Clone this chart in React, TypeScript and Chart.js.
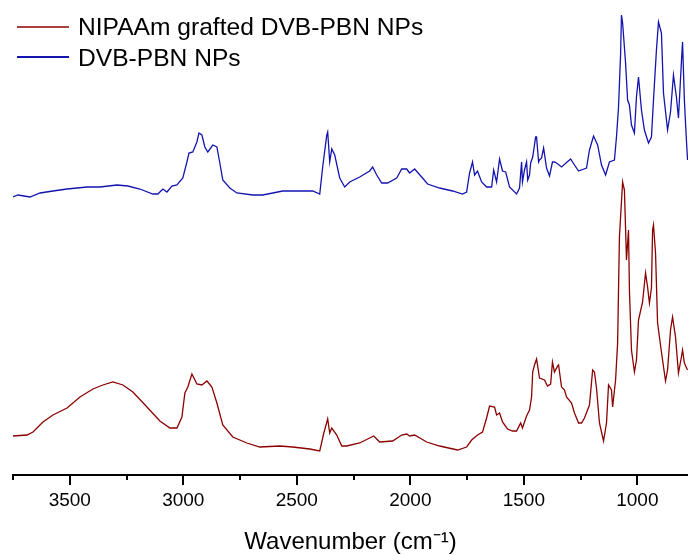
import React, { useEffect, useRef } from 'react';
import { Chart, registerables } from 'chart.js';

Chart.register(...registerables);

const SERIES_NAMES = ['NIPAAm grafted DVB-PBN NPs', 'DVB-PBN NPs'];
const SERIES_COLORS = ['#8b0000', '#1414b0'];

const RED_WN = [3750, 3688, 3662, 3618, 3574, 3512, 3455, 3398, 3354, 3310, 3266, 3222, 3160, 3103, 3059, 3028, 3006, 2993, 2980, 2962, 2940, 2918, 2896, 2874, 2852, 2826, 2782, 2720, 2663, 2575, 2518, 2443, 2399, 2381, 2364, 2355, 2346, 2324, 2302, 2280, 2223, 2170, 2161, 2135, 2078, 2038, 2016, 2003, 1981, 1928, 1871, 1792, 1752, 1730, 1704, 1682, 1664, 1651, 1629, 1620, 1607, 1594, 1572, 1550, 1532, 1514, 1506, 1488, 1475, 1466, 1461, 1453, 1444, 1431, 1409, 1396, 1382, 1374, 1365, 1351, 1347, 1334, 1321, 1312, 1290, 1277, 1259, 1246, 1233, 1211, 1197, 1189, 1180, 1167, 1149, 1136, 1127, 1114, 1109, 1096, 1087, 1079, 1065, 1057, 1052, 1048, 1039, 1035, 1026, 1013, 1004, 995, 977, 964, 955, 947, 938, 933, 929, 920, 911, 894, 876, 867, 854, 845, 832, 819, 806, 801, 793, 779];
const RED_VAL = [39, 40, 43, 53, 60, 67, 78, 86, 90, 93, 90, 83, 68, 54, 47, 47, 58, 82, 88, 101, 91, 90, 94, 88, 72, 50, 38, 32, 28, 29, 28, 26, 24, 42, 56, 42, 47, 40, 29, 29, 32, 38, 39, 33, 34, 40, 41, 39, 40, 33, 29, 25, 28, 35, 40, 43, 57, 69, 68, 60, 62, 53, 46, 44, 44, 52, 47, 59, 65, 78, 103, 110, 116, 97, 95, 89, 91, 113, 103, 109, 110, 88, 85, 78, 72, 62, 52, 52, 57, 70, 105, 103, 87, 52, 34, 52, 90, 85, 68, 95, 132, 238, 293, 285, 247, 215, 245, 185, 125, 103, 115, 155, 173, 202, 188, 172, 187, 245, 250, 222, 152, 123, 94, 105, 145, 158, 138, 102, 118, 125, 112, 105];

const BLUE_WN = [3750, 3728, 3675, 3631, 3574, 3512, 3424, 3367, 3292, 3244, 3191, 3134, 3112, 3090, 3072, 3050, 3028, 3002, 2984, 2975, 2958, 2940, 2931, 2918, 2905, 2892, 2870, 2852, 2839, 2826, 2795, 2764, 2694, 2650, 2562, 2487, 2430, 2399, 2386, 2368, 2364, 2355, 2346, 2333, 2311, 2289, 2267, 2223, 2179, 2166, 2148, 2126, 2100, 2060, 2038, 2016, 2003, 1981, 1950, 1924, 1871, 1814, 1770, 1752, 1739, 1726, 1717, 1704, 1686, 1664, 1642, 1633, 1620, 1607, 1594, 1580, 1563, 1532, 1519, 1510, 1506, 1497, 1488, 1483, 1475, 1470, 1461, 1448, 1444, 1435, 1431, 1422, 1413, 1400, 1387, 1374, 1365, 1356, 1334, 1299, 1294, 1277, 1259, 1224, 1211, 1193, 1175, 1158, 1140, 1123, 1101, 1092, 1083, 1074, 1070, 1065, 1052, 1043, 1035, 1026, 1013, 1004, 995, 982, 969, 951, 938, 929, 916, 907, 894, 885, 867, 854, 841, 828, 819, 806, 801, 793, 784, 779];
const BLUE_VAL = [278, 280, 278, 282, 284, 286, 288, 288, 290, 289, 286, 281, 281, 286, 283, 289, 290, 297, 313, 322, 323, 333, 342, 340, 328, 323, 330, 328, 312, 295, 287, 282, 280, 280, 284, 284, 284, 281, 308, 340, 343, 313, 326, 320, 297, 288, 293, 298, 304, 308, 300, 292, 292, 297, 306, 306, 302, 306, 298, 291, 287, 284, 281, 283, 302, 313, 300, 304, 293, 288, 288, 305, 293, 316, 304, 303, 288, 281, 287, 313, 293, 305, 313, 295, 300, 312, 318, 338, 338, 313, 315, 317, 327, 307, 299, 313, 313, 312, 308, 315, 316, 310, 304, 307, 325, 339, 330, 310, 300, 313, 315, 338, 368, 420, 460, 452, 412, 375, 370, 350, 342, 378, 398, 365, 345, 332, 338, 375, 425, 453, 442, 382, 345, 363, 400, 378, 357, 413, 433, 375, 335, 315];

const MAJOR_TICKS = [3500, 3000, 2500, 2000, 1500, 1000];
const MINOR_TICKS = [3750, 3250, 2750, 2250, 1750, 1250];
const X_MIN = 777;
const X_MAX = 3750;
const Y_MIN = 0;
const Y_MAX = 475;
const X_TITLE = 'Wavenumber (cm\u207B\u00B9)';

const FONT = "'Liberation Sans', Arial, sans-serif";

const toPoints = (xs: number[], ys: number[]) => xs.map((x, i) => ({ x, y: ys[i] }));

const axisPlugin = {
  id: 'axisMarks',
  afterDraw(chart: any) {
    const { ctx, chartArea } = chart;
    const xs = chart.scales.x;
    const y0 = chartArea.bottom;
    ctx.save();
    ctx.strokeStyle = '#000';
    ctx.lineWidth = 2;
    ctx.beginPath();
    ctx.moveTo(chartArea.left - 1, y0);
    ctx.lineTo(chartArea.right, y0);
    ctx.stroke();
    MAJOR_TICKS.forEach((v) => {
      const px = Math.round(xs.getPixelForValue(v));
      ctx.beginPath();
      ctx.moveTo(px, y0);
      ctx.lineTo(px, y0 + 10);
      ctx.stroke();
    });
    MINOR_TICKS.forEach((v) => {
      const px = Math.round(xs.getPixelForValue(v));
      ctx.beginPath();
      ctx.moveTo(px, y0);
      ctx.lineTo(px, y0 + 5);
      ctx.stroke();
    });
    ctx.restore();
  },
};

const legendPlugin = {
  id: 'customLegend',
  afterDraw(chart: any) {
    const { ctx } = chart;
    ctx.save();
    chart.data.datasets.forEach((ds: any, i: number) => {
      const yLine = 27 + i * 30;
      ctx.strokeStyle = ds.borderColor;
      ctx.lineWidth = i === 0 ? 1.5 : 2;
      ctx.beginPath();
      ctx.moveTo(17, yLine);
      ctx.lineTo(69, yLine);
      ctx.stroke();
      ctx.fillStyle = '#000';
      ctx.font = `24.6px ${FONT}`;
      ctx.textBaseline = 'alphabetic';
      ctx.textAlign = 'left';
      ctx.fillText(ds.label, 78, 35 + i * 31);
    });
    ctx.restore();
  },
};

export default function App() {
  const canvasRef = useRef<HTMLCanvasElement>(null);

  useEffect(() => {
    if (!canvasRef.current) return;
    const chart = new Chart(canvasRef.current, {
      type: 'line',
      data: {
        datasets: [
          {
            label: SERIES_NAMES[0],
            data: toPoints(RED_WN, RED_VAL),
            borderColor: SERIES_COLORS[0],
            borderWidth: 1.3,
            pointRadius: 0,
            tension: 0,
            fill: false,
          },
          {
            label: SERIES_NAMES[1],
            data: toPoints(BLUE_WN, BLUE_VAL),
            borderColor: SERIES_COLORS[1],
            borderWidth: 1.3,
            pointRadius: 0,
            tension: 0,
            fill: false,
          },
        ],
      },
      options: {
        animation: false,
        responsive: false,
        devicePixelRatio: 1,
        layout: { padding: { left: 13, right: 0, top: 0, bottom: 0 } },
        plugins: { legend: { display: false }, tooltip: { enabled: false } },
        scales: {
          x: {
            type: 'linear',
            reverse: true,
            min: X_MIN,
            max: X_MAX,
            grid: { display: false, drawTicks: false, tickLength: 0 },
            border: { display: false },
            afterBuildTicks: (scale: any) => {
              scale.ticks = MAJOR_TICKS.map((v) => ({ value: v }));
            },
            afterFit: (scale: any) => {
              scale.paddingLeft = 0;
              scale.paddingRight = 0;
            },
            ticks: {
              autoSkip: false,
              maxRotation: 0,
              minRotation: 0,
              padding: 14.2,
              color: '#000',
              font: { family: FONT, size: 19 },
              callback: (v: any) => String(v),
            },
            title: {
              display: true,
              text: X_TITLE,
              color: '#000',
              padding: { top: 3.8, bottom: 1 },
              font: { family: FONT, size: 24, lineHeight: 1 },
            },
          },
          y: {
            display: false,
            min: Y_MIN,
            max: Y_MAX,
          },
        },
      },
      plugins: [axisPlugin, legendPlugin],
    });
    return () => chart.destroy();
  }, []);

  return (
    <div style={{ position: 'absolute', left: 0, top: 0, width: 688, height: 555, background: '#fff' }}>
      <canvas ref={canvasRef} width={688} height={555} />
    </div>
  );
}
